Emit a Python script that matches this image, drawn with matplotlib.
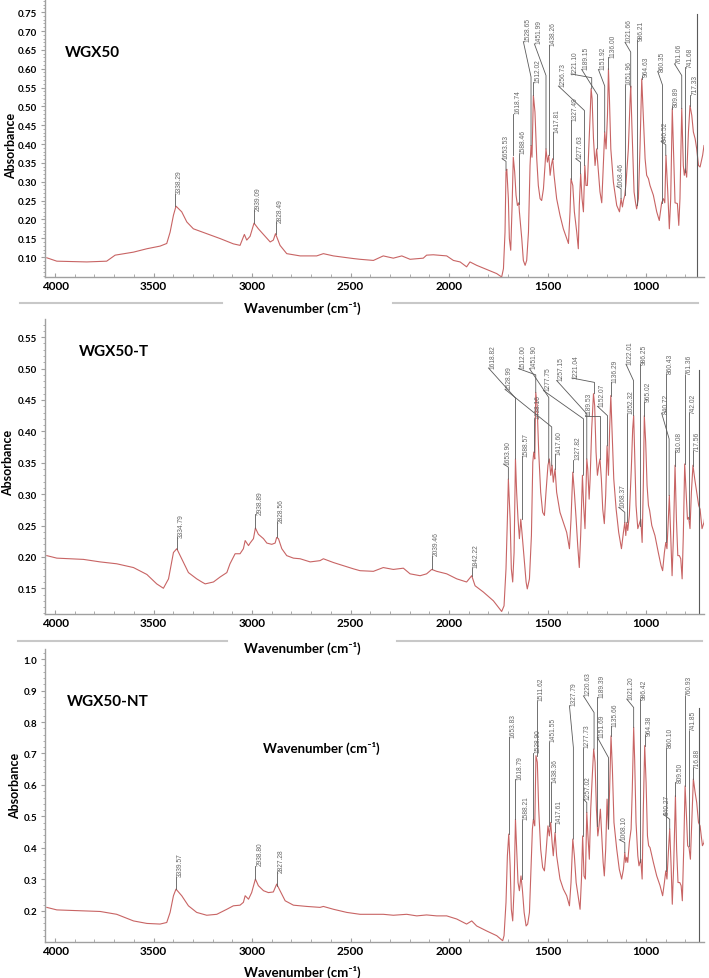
import matplotlib
matplotlib.use("Agg")
import matplotlib.pyplot as plt
import matplotlib.transforms as mtransforms
from matplotlib.ticker import MultipleLocator, FormatStrFormatter, FixedLocator

plt.rcParams['font.family'] = ['Lato', 'DejaVu Sans']

# ---------------- WGX50 ----------------
wn_wgx50 = [4042, 3991, 3839, 3738, 3695, 3602, 3534, 3467, 3433, 3416, 3399, 3386, 3357, 3331,
            3298, 3230, 3162, 3095, 3061, 3039, 3027, 3010, 2990, 2968, 2942, 2908, 2892, 2881,
            2858, 2824, 2756, 2672, 2638, 2587, 2486, 2452, 2384, 2334, 2283, 2240, 2198, 2131,
            2114, 2080, 2012, 1978, 1944, 1911, 1894, 1860, 1809, 1758, 1733,
            1724, 1716, 1711, 1707, 1699, 1694, 1687, 1680, 1674, 1667, 1660, 1653, 1646, 1643,
            1631, 1623, 1614, 1606, 1597, 1589, 1584, 1579, 1572, 1564, 1555, 1547, 1538, 1530,
            1521, 1513, 1508, 1501, 1494, 1487, 1481, 1474, 1467, 1454, 1437, 1420, 1403, 1394,
            1386, 1381, 1372, 1364, 1352, 1344, 1339, 1332, 1325, 1318, 1311, 1305, 1298, 1291,
            1284, 1279, 1274, 1267, 1259, 1251, 1242, 1234, 1225, 1217, 1210, 1203, 1196, 1191,
            1186, 1179, 1166, 1149, 1135, 1127, 1120, 1115, 1108, 1102, 1090, 1081, 1078, 1071,
            1061, 1054, 1048, 1039, 1031, 1022, 1014, 1005, 997, 988, 980, 963, 946, 933, 921,
            912, 905, 899, 890, 882, 875, 867, 861, 853, 841, 834, 828, 819, 811, 806, 801, 794,
            785, 777, 768, 760, 751, 743, 734, 726, 713, 706]
abs_wgx50 = [0.098, 0.089, 0.087, 0.089, 0.105, 0.113, 0.122, 0.129, 0.136, 0.166, 0.211, 0.235, 0.220, 0.193,
             0.175, 0.162, 0.149, 0.135, 0.131, 0.160, 0.145, 0.155, 0.190, 0.175, 0.160, 0.140, 0.145, 0.162,
             0.131, 0.109, 0.103, 0.103, 0.109, 0.103, 0.096, 0.094, 0.091, 0.103, 0.097, 0.103, 0.094, 0.097,
             0.105, 0.106, 0.103, 0.091, 0.087, 0.074, 0.087, 0.078, 0.067, 0.056, 0.047,
             0.069, 0.166, 0.326, 0.333, 0.255, 0.149, 0.118, 0.237, 0.365, 0.326, 0.264, 0.237, 0.244, 0.220,
             0.149, 0.091, 0.078, 0.091, 0.166, 0.343, 0.396, 0.365, 0.529, 0.485, 0.361, 0.290, 0.255, 0.250,
             0.281, 0.343, 0.387, 0.352, 0.370, 0.317, 0.343, 0.361, 0.317, 0.255, 0.211, 0.175, 0.149, 0.136,
             0.220, 0.308, 0.290, 0.220, 0.166, 0.122, 0.237, 0.321, 0.255, 0.220, 0.343, 0.290, 0.290, 0.387,
             0.476, 0.547, 0.520, 0.414, 0.343, 0.387, 0.326, 0.273, 0.244, 0.343, 0.432, 0.387, 0.476, 0.600,
             0.520, 0.387, 0.299, 0.237, 0.220, 0.255, 0.233, 0.250, 0.264, 0.295, 0.387, 0.520, 0.554, 0.432,
             0.273, 0.246, 0.228, 0.255, 0.387, 0.573, 0.476, 0.361, 0.317, 0.308, 0.290, 0.264, 0.220, 0.197, 0.244,
             0.255, 0.244, 0.370, 0.273, 0.175, 0.255, 0.494, 0.387, 0.244, 0.242, 0.184, 0.255, 0.494, 0.343, 0.317, 0.334, 0.312,
             0.432, 0.502, 0.476, 0.432, 0.414, 0.387, 0.343, 0.339, 0.370, 0.396]
peaks_wgx50 = ["3338.29", "2939.09", "2828.49", "1653.53", "1618.74", "1588.46", "1528.65", "1512.02",
               "1451.99", "1438.26", "1417.81", "1327.49", "1277.63", "1256.73", "1221.10", "1189.15",
               "1151.92", "1136.00", "1068.46", "1051.96", "1021.66", "986.21", "964.63", "860.35",
               "840.52", "809.89", "761.06", "741.68", "717.33"]
peak_wn_wgx50 = [3391, 2990, 2881, 1711, 1674, 1645, 1584, 1572, 1508, 1493, 1474, 1383, 1333, 1313,
                 1276, 1247, 1210, 1191, 1127, 1108, 1078, 1044, 1020, 917, 900, 867, 819, 800, 775]
peak_abs_wgx50 = [0.235, 0.190, 0.162, 0.330, 0.370, 0.242, 0.396, 0.529, 0.387, 0.370, 0.361, 0.308,
                  0.321, 0.343, 0.547, 0.387, 0.432, 0.600, 0.255, 0.264, 0.551, 0.237, 0.573, 0.242,
                  0.370, 0.494, 0.494, 0.326, 0.502]
# leader layout: (top of vertical stroke, label anchor wn, label anchor abs)
lead_wgx50 = [(0.268, None, None), (0.225, None, None), (0.193, None, None), (0.354, 1731, 0.361),
              (0.480, None, None), (0.374, None, None), (0.578, 1623, 0.672), (0.564, None, None),
              (0.582, 1567, 0.666), (0.662, None, None), (0.432, None, None), (0.463, None, None),
              (0.352, 1357, 0.361), (0.489, 1445, 0.554), (0.576, 1381, 0.586), (0.531, 1327, 0.598),
              (0.554, 1242, 0.598), (0.631, None, None), (0.281, 1149, 0.288), (0.557, None, None),
              (0.644, 1107, 0.670), (0.675, None, None), (0.580, None, None), (0.557, 941, 0.593),
              (0.398, 924, 0.407), (0.501, None, None), (0.582, 856, 0.613), (0.604, None, None),
              (0.531, None, None)]

# ---------------- WGX50-T ----------------
wn_wgx50t = [4042, 3991, 3856, 3771, 3687, 3602, 3534, 3484, 3450, 3424, 3399, 3382, 3357, 3323,
             3281, 3255, 3238, 3196, 3162, 3128, 3112, 3086, 3061, 3044, 3035, 3018, 3010, 2993,
             2983, 2968, 2942, 2925, 2900, 2883, 2875, 2866, 2849, 2824, 2790, 2756, 2705, 2655,
             2638, 2587, 2536, 2486, 2452, 2384, 2334, 2283, 2232, 2198, 2147, 2114, 2088, 2063,
             2012, 1961, 1911, 1885, 1868, 1826, 1775, 1733,
             1721, 1711, 1704, 1699, 1690, 1684, 1677, 1670, 1663, 1657, 1650, 1643, 1636, 1630,
             1619, 1609, 1603, 1592, 1582, 1575, 1570, 1565, 1560, 1553, 1545, 1535, 1525, 1516,
             1508, 1498, 1491, 1484, 1477, 1471, 1462, 1454, 1437, 1420, 1403, 1389, 1381, 1372,
             1364, 1355, 1347, 1339, 1332, 1323, 1317, 1310, 1301, 1296, 1289, 1284, 1276, 1267,
             1261, 1254, 1247, 1240, 1234, 1227, 1220, 1212, 1205, 1198, 1191, 1185, 1179, 1173,
             1164, 1152, 1139, 1125, 1115, 1108, 1103, 1098, 1093, 1085, 1075, 1068, 1063, 1058,
             1051, 1042, 1034, 1027, 1020, 1014, 1009, 1002, 995, 988, 982, 971, 955, 938, 924,
             916, 907, 900, 894, 887, 882, 875, 868, 861, 853, 846, 839, 831, 824, 817, 811, 804,
             797, 790, 784, 777, 770, 762, 753, 743, 733, 726, 716, 706, 692]
abs_wgx50t = [0.202, 0.198, 0.196, 0.192, 0.189, 0.183, 0.172, 0.157, 0.150, 0.165, 0.207, 0.213, 0.197, 0.175,
              0.165, 0.160, 0.157, 0.160, 0.168, 0.175, 0.189, 0.205, 0.205, 0.213, 0.226, 0.218, 0.222, 0.229,
              0.246, 0.236, 0.229, 0.222, 0.220, 0.222, 0.231, 0.229, 0.213, 0.202, 0.198, 0.197, 0.192, 0.194,
              0.197, 0.191, 0.186, 0.181, 0.178, 0.177, 0.183, 0.180, 0.182, 0.173, 0.170, 0.173, 0.180, 0.177,
              0.173, 0.165, 0.160, 0.170, 0.154, 0.144, 0.130, 0.113,
              0.122, 0.181, 0.260, 0.324, 0.260, 0.181, 0.160, 0.207, 0.356, 0.303, 0.260, 0.229, 0.260, 0.239,
              0.197, 0.160, 0.149, 0.165, 0.234, 0.351, 0.367, 0.356, 0.462, 0.441, 0.367, 0.303, 0.271, 0.266,
              0.303, 0.346, 0.356, 0.330, 0.346, 0.319, 0.340, 0.303, 0.271, 0.255, 0.239, 0.213, 0.260, 0.335,
              0.303, 0.260, 0.218, 0.183, 0.234, 0.330, 0.282, 0.245, 0.356, 0.340, 0.292, 0.324, 0.404, 0.460,
              0.441, 0.367, 0.330, 0.346, 0.356, 0.324, 0.276, 0.253, 0.298, 0.377, 0.330, 0.404, 0.457, 0.404,
              0.324, 0.276, 0.239, 0.213, 0.239, 0.255, 0.234, 0.255, 0.242, 0.266, 0.340, 0.404, 0.425, 0.367,
              0.282, 0.245, 0.253, 0.260, 0.223, 0.314, 0.425, 0.383, 0.314, 0.282, 0.274, 0.250, 0.234, 0.207, 0.186,
              0.178, 0.207, 0.223, 0.213, 0.260, 0.298, 0.234, 0.170, 0.234, 0.346, 0.260, 0.202, 0.202, 0.197, 0.165, 0.234, 0.348,
              0.303, 0.260, 0.263, 0.245, 0.303, 0.346, 0.324, 0.303, 0.282, 0.276, 0.245, 0.255, 0.287]
peaks_wgx50t = ["3334.79", "2938.89", "2828.56", "2039.46", "1842.22", "1653.90", "1618.82", "1588.57",
                "1528.99", "1512.00", "1451.90", "1438.16", "1417.60", "1327.82", "1277.75", "1257.15",
                "1221.04", "1189.53", "1152.07", "1136.29", "1068.37", "1052.32", "1022.01", "986.25",
                "965.02", "860.43", "840.72", "810.08", "761.36", "742.02", "717.56"]
peak_wn_wgx50t = [3382, 2983, 2875, 2085, 1885, 1699, 1663, 1631, 1479, 1560, 1494, 1570, 1462, 1369,
                  1318, 1301, 1262, 1234, 1196, 1179, 1108, 1098, 1064, 1031, 1010, 900, 883, 853, 802,
                  784, 760]
peak_abs_wgx50t = [0.213, 0.246, 0.231, 0.180, 0.170, 0.324, 0.356, 0.260, 0.345, 0.462, 0.351, 0.367,
                   0.340, 0.335, 0.330, 0.356, 0.460, 0.356, 0.377, 0.457, 0.255, 0.255, 0.425, 0.250,
                   0.425, 0.223, 0.298, 0.345, 0.348, 0.260, 0.345]
lead_wgx50t = [(0.231, None, None), (0.268, None, None), (0.255, None, None), (0.202, None, None),
               (0.183, None, None), (0.343, 1724, 0.348), (0.453, 1800, 0.501), (0.360, None, None),
               (0.407, 1716, 0.467), (0.490, 1648, 0.500), (0.454, 1592, 0.500), (0.420, None, None),
               (0.364, None, None), (0.355, None, None), (0.420, 1521, 0.465), (0.428, 1454, 0.481),
               (0.478, 1377, 0.485), (0.425, 1310, 0.425), (0.425, 1247, 0.440), (0.478, None, None),
               (0.271, 1139, 0.279), (0.428, None, None), (0.481, 1102, 0.507), (0.507, None, None),
               (0.447, None, None), (0.492, None, None), (0.388, 921, 0.429), (0.368, None, None),
               (0.490, None, None), (0.429, None, None), (0.368, None, None)]

# ---------------- WGX50-NT ----------------
wn_wgx50nt = [4042, 3991, 3856, 3771, 3687, 3602, 3534, 3467, 3433, 3416, 3399, 3386, 3357, 3323,
              3281, 3230, 3179, 3128, 3095, 3061, 3044, 3035, 3018, 3002, 2983, 2968, 2942, 2917,
              2892, 2875, 2858, 2832, 2790, 2722, 2655, 2638, 2587, 2519, 2452, 2384, 2334, 2283,
              2215, 2164, 2114, 2063, 2012, 1961, 1911, 1885, 1860, 1809, 1758, 1728,
              1721, 1711, 1704, 1697, 1690, 1684, 1677, 1670, 1663, 1657, 1650, 1643, 1635, 1628,
              1619, 1609, 1601, 1592, 1584, 1577, 1572, 1565, 1559, 1552, 1545, 1535, 1525, 1516,
              1508, 1498, 1491, 1484, 1477, 1471, 1462, 1454, 1437, 1420, 1403, 1389, 1381, 1372,
              1364, 1355, 1345, 1335, 1328, 1322, 1315, 1308, 1301, 1295, 1288, 1281, 1273, 1266,
              1259, 1252, 1245, 1239, 1232, 1225, 1218, 1212, 1205, 1198, 1191, 1185, 1178, 1171,
              1163, 1149, 1136, 1124, 1115, 1108, 1103, 1098, 1093, 1085, 1076, 1070, 1063, 1058,
              1051, 1042, 1036, 1027, 1020, 1014, 1007, 1000, 993, 987, 980, 963, 946, 929, 916,
              907, 900, 894, 887, 880, 873, 867, 860, 851, 845, 838, 829, 822, 816, 809, 802, 795,
              789, 782, 775, 768, 760, 751, 743, 734, 726, 714, 706, 692]
abs_wgx50nt = [0.211, 0.203, 0.200, 0.198, 0.189, 0.168, 0.160, 0.158, 0.163, 0.195, 0.248, 0.269, 0.248, 0.216,
               0.195, 0.186, 0.189, 0.205, 0.216, 0.218, 0.227, 0.248, 0.237, 0.258, 0.301, 0.280, 0.264, 0.258,
               0.260, 0.285, 0.264, 0.232, 0.218, 0.214, 0.211, 0.214, 0.205, 0.195, 0.189, 0.189, 0.189, 0.186,
               0.189, 0.184, 0.187, 0.184, 0.184, 0.174, 0.158, 0.168, 0.152, 0.136, 0.121, 0.105,
               0.121, 0.227, 0.375, 0.444, 0.343, 0.205, 0.168, 0.269, 0.491, 0.396, 0.290, 0.264, 0.311, 0.269,
               0.195, 0.152, 0.158, 0.195, 0.332, 0.460, 0.491, 0.470, 0.693, 0.672, 0.523, 0.396, 0.338, 0.327,
               0.385, 0.470, 0.438, 0.481, 0.417, 0.375, 0.449, 0.375, 0.301, 0.269, 0.248, 0.216, 0.290, 0.428,
               0.375, 0.290, 0.248, 0.205, 0.301, 0.438, 0.311, 0.301, 0.513, 0.438, 0.364, 0.523, 0.629, 0.714,
               0.672, 0.523, 0.438, 0.470, 0.523, 0.438, 0.354, 0.311, 0.396, 0.555, 0.460, 0.587, 0.756, 0.650,
               0.481, 0.396, 0.332, 0.301, 0.332, 0.385, 0.354, 0.370, 0.354, 0.417, 0.460, 0.587, 0.783, 0.682,
               0.481, 0.375, 0.343, 0.364, 0.301, 0.523, 0.725, 0.608, 0.438, 0.407, 0.401, 0.354, 0.311, 0.280, 0.248,
               0.290, 0.327, 0.301, 0.385, 0.460, 0.343, 0.221, 0.343, 0.566, 0.396, 0.290, 0.290, 0.280, 0.232, 0.396, 0.597, 0.502,
               0.407, 0.401, 0.364, 0.481, 0.619, 0.576, 0.544, 0.481, 0.470, 0.407, 0.417, 0.481]
peaks_wgx50nt = ["3339.57", "2938.80", "2827.28", "1653.83", "1618.79", "1588.21", "1528.90", "1511.62",
                 "1451.55", "1438.36", "1417.61", "1327.79", "1277.73", "1257.02", "1220.63", "1189.39",
                 "1151.69", "1135.66", "1068.10", "1021.20", "986.42", "964.38", "860.10", "840.27",
                 "809.50", "760.93", "741.85", "716.88"]
peak_wn_wgx50nt = [3386, 2983, 2875, 1697, 1663, 1631, 1572, 1555, 1494, 1482, 1462, 1369, 1322, 1301,
                   1264, 1247, 1191, 1178, 1108, 1063, 1031, 1007, 900, 880, 851, 802, 782, 760]
peak_abs_wgx50nt = [0.269, 0.301, 0.280, 0.444, 0.491, 0.301, 0.491, 0.693, 0.470, 0.481, 0.449, 0.428,
                    0.438, 0.513, 0.714, 0.470, 0.460, 0.756, 0.385, 0.783, 0.354, 0.725, 0.327, 0.460,
                    0.566, 0.597, 0.407, 0.619]
lead_wgx50nt = [(0.308, None, None), (0.343, None, None), (0.322, None, None), (0.751, None, None),
                (0.619, None, None), (0.489, None, None), (0.703, None, None), (0.868, None, None),
                (0.737, None, None), (0.608, None, None), (0.479, None, None), (0.719, 1389, 0.852),
                (0.719, None, None), (0.544, 1318, 0.555), (0.830, 1318, 0.883), (0.878, None, None),
                (0.687, 1247, 0.751), (0.786, None, None), (0.417, 1136, 0.426), (0.846, 1098, 0.873),
                (0.873, None, None), (0.758, None, None), (0.719, None, None), (0.491, 912, 0.507),
                (0.608, None, None), (0.883, None, None), (0.772, None, None), (0.654, None, None)]

fig = plt.figure(figsize=(7.09, 9.79), dpi=100)

LINE = '#c86464'
ANN = '#5a5a5a'
AXC = '#a0a0a0'


def draw_panel(rect, wn, ab, labels, pw, pa, leads, ylim, major, minor, fmt, right_line):
    ax = fig.add_axes(rect)
    ax.plot(wn, ab, color=LINE, lw=0.8)
    off = mtransforms.offset_copy(ax.transData, fig=fig, x=0.6, y=0.3, units='points')
    for lab, x, y, (knee, ex, ey) in zip(labels, pw, pa, leads):
        if ex is None:
            ex, ey = x, knee
        ax.plot([x, x, ex], [y, knee, ey], color=ANN, lw=0.6)
        ax.text(ex, ey, lab, transform=off, rotation=90, ha='left', va='bottom',
                fontsize=4.8, color='#666666', family='Liberation Sans', clip_on=False)
    ax.plot([right_line[0], right_line[0]], [right_line[1], ylim[0]], color=ANN, lw=0.8)
    ax.set_xlim(4051, 706)
    ax.set_ylim(*ylim)
    ax.xaxis.set_major_locator(FixedLocator([4000, 3500, 3000, 2500, 2000, 1500, 1000]))
    ax.xaxis.set_minor_locator(MultipleLocator(100))
    ax.yaxis.set_major_locator(MultipleLocator(major))
    ax.yaxis.set_minor_locator(MultipleLocator(minor))
    ax.yaxis.set_major_formatter(FormatStrFormatter(fmt))
    for s in ['top', 'right']:
        ax.spines[s].set_visible(False)
    for s in ['left', 'bottom']:
        ax.spines[s].set_color(AXC)
        ax.spines[s].set_linewidth(1.0)
    ax.tick_params(axis='y', which='major', length=3, width=0.8, color=AXC, pad=2.5,
                   labelsize=7, direction='out')
    ax.tick_params(axis='y', which='minor', length=1.8, width=0.6, color=AXC, direction='out')
    ax.tick_params(axis='x', which='major', length=3, width=0.8, color=AXC, pad=2,
                   labelsize=8.5, direction='in')
    ax.tick_params(axis='x', which='minor', length=2, width=0.6, color=AXC, direction='in')
    ax.patch.set_alpha(0)
    return ax


W, H = 709.0, 979.0
L = 45 / W
WD = (704 - 45) / W

ax1 = draw_panel([L, 1 - 278 / H, WD, 278 / H], wn_wgx50, abs_wgx50, peaks_wgx50,
                 peak_wn_wgx50, peak_abs_wgx50, lead_wgx50, (0.047, 0.785), 0.05, 0.01,
                 '%.2f', (743, 0.746))
ax2 = draw_panel([L, 1 - 615 / H, WD, (615 - 320) / H], wn_wgx50t, abs_wgx50t, peaks_wgx50t,
                 peak_wn_wgx50t, peak_abs_wgx50t, lead_wgx50t, (0.109, 0.579), 0.05, 0.01,
                 '%.2f', (729, 0.497))
ax3 = draw_panel([L, 1 - 943 / H, WD, (943 - 650) / H], wn_wgx50nt, abs_wgx50nt, peaks_wgx50nt,
                 peak_wn_wgx50nt, peak_abs_wgx50nt, lead_wgx50nt, (0.101, 1.032), 0.1, 0.02,
                 '%.1f', (729, 0.846))
ax1.set_yticks([0.10, 0.15, 0.20, 0.25, 0.30, 0.35, 0.40, 0.45, 0.50, 0.55, 0.60, 0.65, 0.70, 0.75])
ax2.set_yticks([0.15, 0.20, 0.25, 0.30, 0.35, 0.40, 0.45, 0.50, 0.55])
ax3.set_yticks([0.2, 0.3, 0.4, 0.5, 0.6, 0.7, 0.8, 0.9, 1.0])
for ax in (ax1, ax2, ax3):
    ax.yaxis.set_major_formatter(FormatStrFormatter('%.1f' if ax is ax3 else '%.2f'))
    for t in ax.get_xticklabels() + ax.get_yticklabels():
        t.set_fontweight('bold')

xlab = 'Wavenumber (cm\u207b\u00b9)'
for yc in (308, 648, 972):
    fig.text(302 / W, 1 - yc / H, xlab, ha='center', va='center', fontsize=9.5, fontweight='bold')
fig.text(263 / W, 1 - 748 / H, xlab, ha='left', va='center', fontsize=9.5, fontweight='bold')

for xc, yc in ((11, 146), (8, 463), (15, 786)):
    fig.text(xc / W, 1 - yc / H, 'Absorbance', rotation=90, ha='center', va='center',
             fontsize=9, fontweight='bold')

for name, xc, yc in (('WGX50', 65, 53), ('WGX50-T', 79, 352), ('WGX50-NT', 67, 702)):
    fig.text(xc / W, 1 - yc / H, name, ha='left', va='center', fontsize=11, fontweight='bold')

# stray grey rules left over between the stacked panels
for y, segs in ((304, ((20, 222), (393, 698))), (642, ((18, 227), (397, 702)))):
    for x0, x1 in segs:
        fig.add_artist(plt.Line2D([x0 / W, x1 / W], [1 - y / H, 1 - y / H],
                                  transform=fig.transFigure, color='#c8c8c8', lw=1.5))

fig.savefig('out.png', dpi=100)
